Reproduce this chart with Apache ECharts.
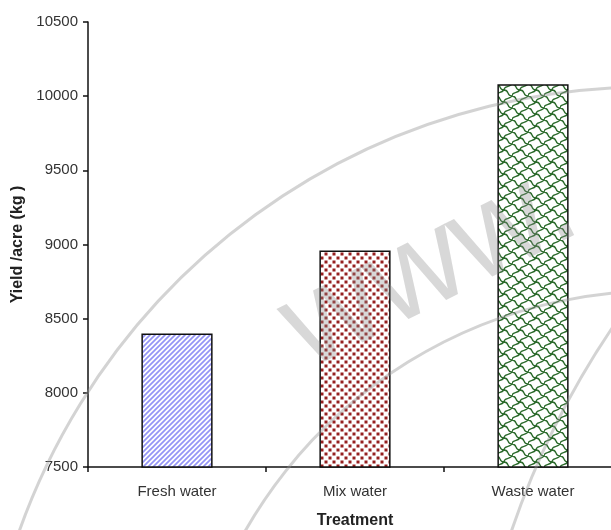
<!DOCTYPE html>
<html>
<head>
<meta charset="utf-8">
<script src="https://cdn.jsdelivr.net/npm/echarts@6.0.0/dist/echarts.min.js"></script>
<style>
  html, body { margin: 0; padding: 0; background: #fff; }
  #chart { width: 611px; height: 530px; }
</style>
</head>
<body>
<div id="chart"></div>
<script>
// Treatment categories and yield per acre (kg)
const categories = ['Fresh water', 'Mix water', 'Waste water'];
const yieldValues = [8400, 8960, 10080];
const yTicks = [7500, 8000, 8500, 9000, 9500, 10000, 10500];

// --- hatch fills drawn into small tiles ---
function tile(w, h, draw) {
  const c = document.createElement('canvas');
  c.width = w; c.height = h;
  const ctx = c.getContext('2d');
  ctx.fillStyle = '#ffffff';
  ctx.fillRect(0, 0, w, h);
  draw(ctx);
  return c;
}

// diagonal blue stripes
const stripeTile = tile(5, 5, ctx => {
  ctx.strokeStyle = '#9494f6';
  ctx.lineWidth = 1.7;
  ctx.beginPath();
  ctx.moveTo(-1, 6); ctx.lineTo(6, -1);
  ctx.moveTo(-1, 1); ctx.lineTo(1, -1);
  ctx.moveTo(4, 6); ctx.lineTo(6, 4);
  ctx.stroke();
});

// staggered dark red dots
const dotTile = tile(8, 8, ctx => {
  ctx.fillStyle = '#951f1f';
  ctx.fillRect(0.5, 0.5, 3, 3);
  ctx.fillRect(4.5, 4.5, 3, 3);
});

// green rounded shingle cells
const scaleTile = tile(16, 12, ctx => {
  ctx.strokeStyle = '#2b6a2b';
  ctx.lineWidth = 1.3;
  ctx.beginPath();
  ctx.moveTo(0, 0);
  ctx.bezierCurveTo(6, 0, 2, 6, 8, 6);
  ctx.bezierCurveTo(14, 6, 10, 12, 16, 12);
  ctx.moveTo(8, 6);
  ctx.bezierCurveTo(8, 1, 13, 4, 16, 0);
  ctx.moveTo(0, 12);
  ctx.bezierCurveTo(0, 7, 5, 10, 8, 6);
  ctx.stroke();
});

const fills = [
  { image: stripeTile, repeat: 'repeat' },
  { image: dotTile, repeat: 'repeat' },
  { image: scaleTile, repeat: 'repeat' }
];

const labelFont = '"Liberation Sans", Arial, sans-serif';
const wmColor = 'rgba(150,150,150,0.42)';

const chart = echarts.init(document.getElementById('chart'), null, { renderer: 'canvas' });

chart.setOption({
  animation: false,
  backgroundColor: '#ffffff',
  grid: {
    left: 88, top: 22, width: 534, height: 445,
    containLabel: false,
    outerBoundsMode: 'none'
  },
  xAxis: {
    type: 'category',
    data: categories,
    name: 'Treatment',
    nameLocation: 'middle',
    nameGap: 46,
    nameTextStyle: { fontFamily: labelFont, fontSize: 16, fontWeight: 'bold', color: '#222' },
    axisLine: { lineStyle: { color: '#111', width: 1.5 } },
    axisTick: { show: true, length: 5, lineStyle: { color: '#111', width: 1.5 } },
    axisLabel: { margin: 17, fontFamily: labelFont, fontSize: 15, color: '#333' },
    splitLine: { show: false }
  },
  yAxis: {
    type: 'value',
    min: yTicks[0],
    max: yTicks[yTicks.length - 1],
    interval: yTicks[1] - yTicks[0],
    name: 'Yield /acre (kg )',
    nameLocation: 'middle',
    nameGap: 60,
    nameTextStyle: { fontFamily: labelFont, fontSize: 16, fontWeight: 'bold', color: '#222' },
    axisLine: { show: true, lineStyle: { color: '#111', width: 1.5 } },
    axisTick: { show: true, length: 5, lineStyle: { color: '#111', width: 1.5 } },
    axisLabel: {
      margin: 10, fontFamily: labelFont, fontSize: 15, color: '#333',
      formatter: v => String(v)
    },
    splitLine: { show: false }
  },
  series: [{
    type: 'bar',
    barWidth: '40%',
    data: yieldValues.map((v, i) => ({
      value: v,
      itemStyle: { color: fills[i], borderColor: '#111', borderWidth: 1.5 }
    }))
  }],
  graphic: [
    {
      type: 'arc', silent: true, z: 100,
      shape: { cx: 648, cy: 754, r: 667, startAngle: -2.95, endAngle: -1.45, clockwise: true },
      style: { stroke: wmColor, lineWidth: 3, fill: null }
    },
    {
      type: 'arc', silent: true, z: 100,
      shape: { cx: 658, cy: 766, r: 475, startAngle: -2.8, endAngle: -1.45, clockwise: true },
      style: { stroke: wmColor, lineWidth: 3, fill: null }
    },
    {
      type: 'arc', silent: true, z: 100,
      shape: { cx: 1331, cy: 811, r: 866, startAngle: -2.88, endAngle: -2.45, clockwise: true },
      style: { stroke: wmColor, lineWidth: 3, fill: null }
    },
    {
      type: 'text', silent: true, z: 100,
      x: 430, y: 268, rotation: 0.47,
      style: {
        text: 'www.',
        font: '130px "Liberation Sans", Arial, sans-serif',
        fill: 'rgba(140,140,140,0.34)',
        textAlign: 'center',
        textVerticalAlign: 'middle'
      }
    }
  ]
});
</script>
</body>
</html>
